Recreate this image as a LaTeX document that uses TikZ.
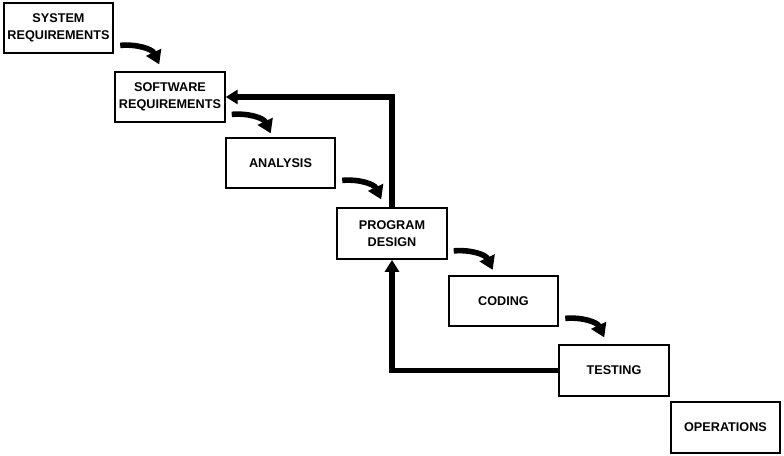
\documentclass[tikz,border=0pt]{standalone}
\usepackage{fontspec}
\setsansfont{Liberation Sans}
\usetikzlibrary{calc, arrows.meta}

\begin{document}
\begin{tikzpicture}[x=0.75pt, y=0.75pt,
  box/.style={draw, line width=1.6pt, minimum width=82pt, minimum height=38pt,
    align=center, inner sep=0pt,
    font=\sffamily\bfseries\fontsize{9.5}{12.5}\selectfont},
  flow/.style={line width=4.2pt, -{Triangle[length=10pt, width=12pt]}},
  back/.style={line width=4pt, -{Triangle[length=9pt, width=10.5pt]}}]
  \useasboundingbox (0,0) rectangle (784,456);
  % the seven stages, stepping down to the right
  \node[box] (sys)  at (58.5,428)  {SYSTEM\\REQUIREMENTS};
  \node[box] (sw)   at (170,359)   {SOFTWARE\\REQUIREMENTS};
  \node[box] (ana)  at (280.5,293) {ANALYSIS};
  \node[box] (pd)   at (392,222.5) {PROGRAM\\DESIGN};
  \node[box] (cod)  at (503.5,155) {CODING};
  \node[box] (test) at (614,85.5)  {TESTING};
  \node[box] (ops)  at (725.5,28.5) {OPERATIONS};
  % curved arrows from each stage down to the next
  \foreach \a in {sys, sw, ana, pd, cod}
    \draw[flow] ($(\a.south east)+(6,9)$) to[out=5, in=115] ($(\a.south east)+(45,-10)$);
  % iteration back to earlier stages
  \draw[back] (pd.north) |- (sw.east);
  \draw[back] (test.west) -| (pd.south);
\end{tikzpicture}
\end{document}
